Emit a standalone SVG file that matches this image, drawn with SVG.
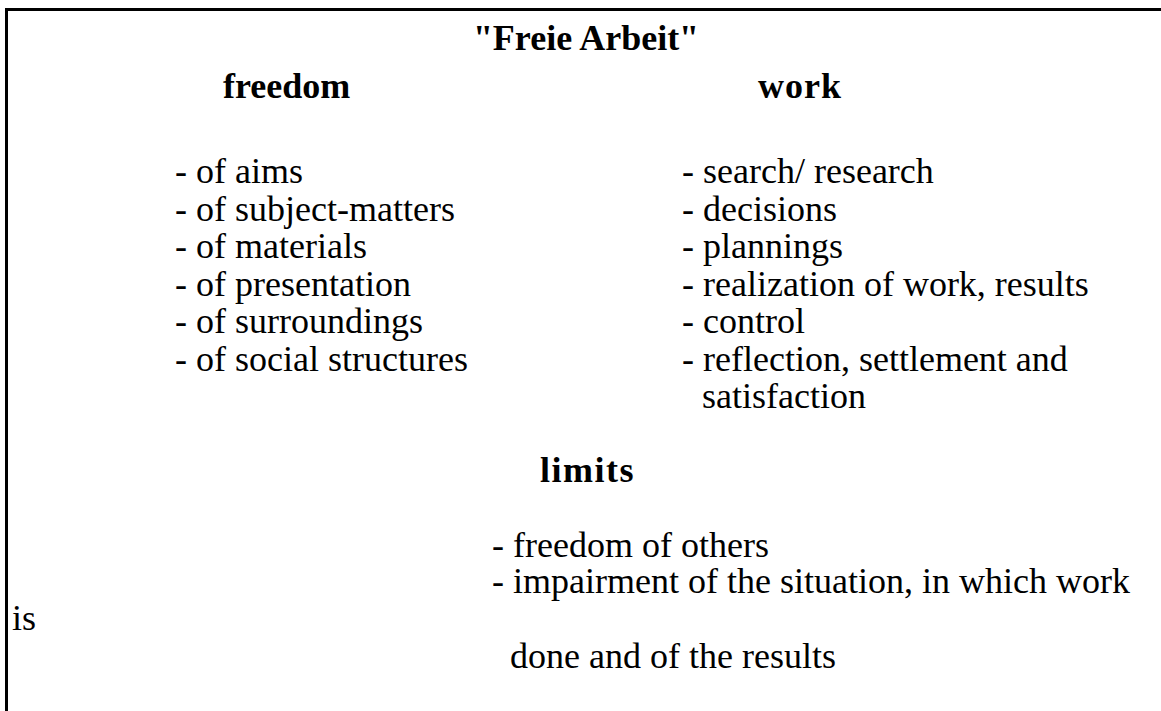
<svg xmlns="http://www.w3.org/2000/svg" width="1161" height="711" viewBox="0 0 1161 711">
  <style>
    .frame { stroke: #000; stroke-width: 3; fill: none; }
    text { font-family: "Liberation Serif", "Times New Roman", serif; font-size: 36px; fill: #000; }
    .head { font-weight: bold; }
  </style>
  <rect width="1161" height="711" fill="#fff"/>

  <!-- open frame: top rule and left rule -->
  <g id="frame">
    <path class="frame" d="M6.5 711 V9.5 H1161"/>
  </g>

  <g id="title">
    <text class="head" x="586" y="50" text-anchor="middle">"Freie Arbeit"</text>
  </g>

  <g id="freedom">
    <text class="head" x="223" y="98">freedom</text>
    <text x="175" y="183">- of aims</text>
    <text x="175" y="221">- of subject-matters</text>
    <text x="175" y="258">- of materials</text>
    <text x="175" y="296">- of presentation</text>
    <text x="175" y="333">- of surroundings</text>
    <text x="175" y="371">- of social structures</text>
  </g>

  <g id="work">
    <text class="head" x="758" y="98" letter-spacing="1">work</text>
    <text x="682" y="183">- search/ research</text>
    <text x="682" y="221">- decisions</text>
    <text x="682" y="258">- plannings</text>
    <text x="682" y="296">- realization of work, results</text>
    <text x="682" y="333">- control</text>
    <text x="682" y="371">- reflection, settlement and</text>
    <text x="702" y="408">satisfaction</text>
  </g>

  <g id="limits">
    <text class="head" x="540" y="482" letter-spacing="1.5">limits</text>
    <text x="492" y="557">- freedom of others</text>
    <text x="492" y="593">- impairment of the situation, in which work</text>
    <text x="12" y="630">is</text>
    <text x="510" y="668">done and of the results</text>
  </g>
</svg>
